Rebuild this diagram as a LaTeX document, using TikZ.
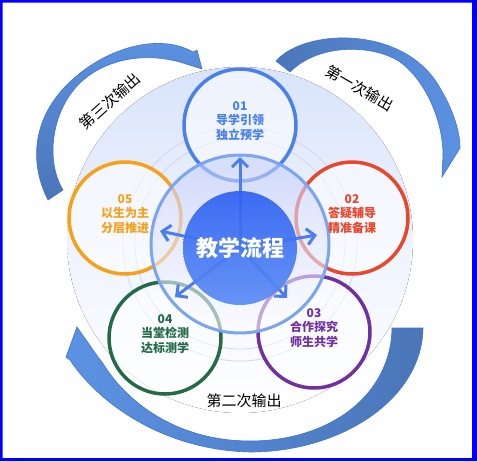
\documentclass[tikz,border=0pt]{standalone}
\usepackage{fontspec}
\newfontfamily\cjk{Noto Sans CJK SC}
\usetikzlibrary{arrows.meta}

\definecolor{c_frame}{HTML}{0000FF}
\definecolor{c_one}{HTML}{4A7FF0}
\definecolor{c_two}{HTML}{E8472B}
\definecolor{c_three}{HTML}{7030A0}
\definecolor{c_four}{HTML}{236B47}
\definecolor{c_five}{HTML}{F7A11A}
\definecolor{c_ring}{HTML}{7BA4F2}
\definecolor{c_thin}{HTML}{C9D8F8}
\definecolor{c_glow}{HTML}{D9E4FB}
\definecolor{c_core_top}{HTML}{2F62F2}
\definecolor{c_core_bot}{HTML}{5A8CF5}
\definecolor{c_spoke}{HTML}{4A7DF0}
\definecolor{c_arrow_dark}{HTML}{4A76B8}
\definecolor{c_arrow_light}{HTML}{5C92E3}
\definecolor{c_arrow_line}{HTML}{3F73D6}

\tikzset{
	stage/.style={circle, draw=#1, line width=3.5pt, fill=white, fill opacity=0.55, minimum size=112pt, inner sep=0pt},
	stagetext/.style={text=#1, font=\cjk\bfseries\fontsize{12}{14.5}\selectfont, align=center, inner sep=0pt},
	thinring/.style={draw=c_thin, line width=0.8pt},
	corering/.style={circle, draw=c_ring, line width=3pt, top color=c_glow!90!blue, bottom color=white, fill opacity=0.6, minimum size=178pt, inner sep=0pt},
	core/.style={circle, top color=c_core_top, bottom color=c_core_bot, fill opacity=0.92, text opacity=1, minimum size=114pt, inner sep=0pt, text=white, font=\cjk\bfseries\fontsize{22}{26}\selectfont},
	spoke/.style={draw=c_spoke, line width=3pt, -{Straight Barb[length=8pt, width=16pt]}},
	outarrow/.style={draw=c_arrow_line, line width=0.6pt},
	outlabel/.style={text=black, font=\cjk\fontsize{15}{18}\selectfont}
}

\begin{document}
\begin{tikzpicture}[x=1pt, y=-1pt]
	\useasboundingbox (0,0) rectangle (477,461);

	%% FRAME AND BACKGROUND
	\fill[c_frame, even odd rule] (0,0) rectangle (477,461) (2.5,2.5) rectangle (472,458);
	\fill[top color=c_glow, bottom color=white, middle color=c_glow!45] (240,240) circle (173pt);
	\draw[thinring] (240,244) circle (105pt);
	\draw[thinring] (240,244) circle (117pt);

	%% STAGES
	\node[stage=c_one](step_preview) at (240,125){};
	\node[stage=c_two](step_answer) at (352,218){};
	\node[stage=c_three](step_coop) at (314,332){};
	\node[stage=c_four](step_test) at (165,338){};
	\node[stage=c_five](step_layer) at (125,218){};

	%% CORE
	\node[corering](flow_ring) at (240,244){};
	\coordinate (flow_mid) at (240,248);

	% spokes
	\coordinate (tip_preview) at (240,157);
	\coordinate (tip_answer) at (317,235);
	\coordinate (tip_coop) at (287,298);
	\coordinate (tip_test) at (175,297);
	\coordinate (tip_layer) at (160,231);

	\draw[spoke] (flow_mid) -- (tip_preview);
	\draw[spoke] (flow_mid) -- (tip_answer);
	\draw[spoke] (flow_mid) -- (tip_coop);
	\draw[spoke] (flow_mid) -- (tip_test);
	\draw[spoke] (flow_mid) -- (tip_layer);

	\node[core](flow) at (flow_mid){教学流程};

	% stage texts
	\node[stagetext=c_one] at ([yshift=4pt]step_preview.center){01\\导学引领\\独立预学};
	\node[stagetext=c_two] at ([yshift=4pt]step_answer.center){02\\答疑辅导\\精准备课};
	\node[stagetext=c_three] at ([yshift=4pt]step_coop.center){03\\合作探究\\师生共学};
	\node[stagetext=c_four] at ([yshift=4pt]step_test.center){04\\当堂检测\\达标测学};
	\node[stagetext=c_five] at ([yshift=4pt]step_layer.center){05\\以生为主\\分层推进};

	%% OUTPUT ARROWS
	\draw[outarrow, left color=c_arrow_dark, right color=c_arrow_light]
		(276,61) .. controls (305,28) and (405,25) .. (440,88)
		.. controls (452,108) and (460,130) .. (460,148) -- (442,177) -- (443,155)
		.. controls (443,120) and (425,80) .. (400,62)
		.. controls (375,45) and (320,42) .. (290,72) -- cycle;

	\draw[outarrow, left color=c_arrow_light, right color=c_arrow_dark]
		(392,328) -- (423,328) .. controls (422,400) and (340,452) .. (250,452)
		.. controls (165,450) and (100,405) .. (70,360) -- (66,357) -- (77,327)
		-- (98,357) -- (102,362) .. controls (128,405) and (180,441) .. (250,441)
		.. controls (330,441) and (391,395) .. (392,328) -- cycle;

	\draw[outarrow, top color=c_arrow_light, bottom color=c_arrow_dark]
		(48,200) .. controls (30,165) and (30,118) .. (72,80)
		.. controls (108,47) and (160,33) .. (193,52) -- (197,50) -- (202,69) -- (183,63)
		.. controls (140,50) and (100,62) .. (78,85)
		.. controls (52,112) and (45,160) .. (63,190) -- cycle;

	\node[outlabel, rotate=-30](lbl_first) at (360,88){第一次输出};
	\node[outlabel](lbl_second) at (244,401){第二次输出};
	\node[outlabel, rotate=42](lbl_third) at (110,101){第三次输出};
\end{tikzpicture}
\end{document}
